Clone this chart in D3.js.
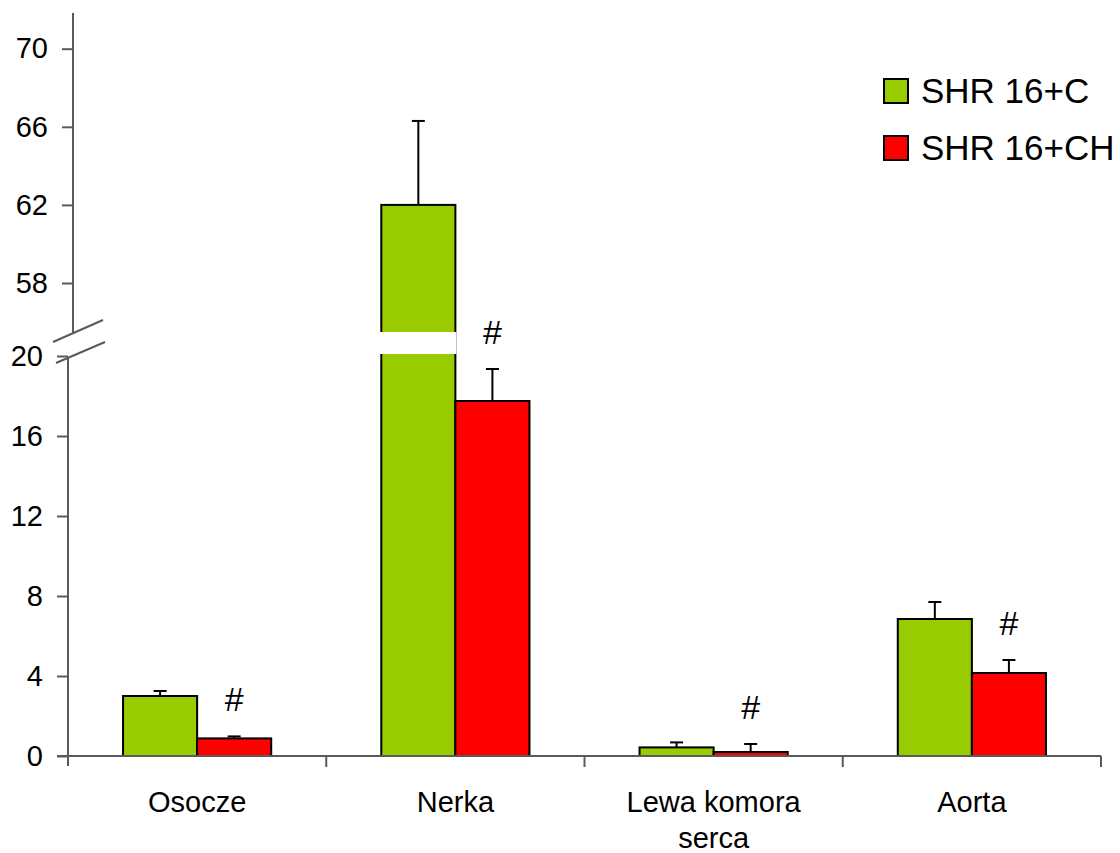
<!DOCTYPE html>
<html>
<head>
<meta charset="utf-8">
<script src="https://cdn.jsdelivr.net/npm/d3@7"></script>
<style>
  html, body { margin: 0; padding: 0; background: #fff; }
  svg { display: block; font-family: Arial, "Liberation Sans", sans-serif; }
</style>
</head>
<body>
<svg id="chart" width="1120" height="853"></svg>
<script>
// Categories and series
const categories = ["Osocze", "Nerka", "Lewa komora serca", "Aorta"];
const categoryLines = [["Osocze"], ["Nerka"], ["Lewa komora", "serca"], ["Aorta"]];
const seriesNames = ["SHR 16+C", "SHR 16+CH"];
const seriesColors = ["#99cc00", "#ff0000"];

// Mean values and upper error-bar ends (mean + SD)
const valuesC  = [3.0, 62.0, 0.43, 6.85];
const errTopC  = [3.25, 66.3, 0.68, 7.7];
const valuesCH = [0.88, 17.75, 0.2, 4.15];
const errTopCH = [0.98, 19.35, 0.6, 4.8];

// Significance markers (#) per category, above the CH bar
const markers = ["#", "#", "#", "#"];

// Axis tick labels for the two segments of the broken axis
const lowTicks = [0, 4, 8, 12, 16, 20];
const highTicks = [58, 62, 66, 70];

const svg = d3.select("#chart");

const axisColor = "#5a5a5a";
const lowX = 68, highX = 73;

// Two vertical scales: lower segment 0-20, upper segment 58-70
const yLow = d3.scaleLinear().domain([0, 20]).range([756, 356]);
const yHigh = d3.scaleLinear().domain([58, 70]).range([283, 48.7]);
const lowTop = 358;      // top of lower axis segment (px)
const highBottom = 333;  // bottom of upper axis segment (px)
const highTopPx = 13;

// Break: values above 20 belong to the upper segment
const breakLow = 20;
function yPos(v) { return v <= breakLow + 0.5 ? yLow(v) : yHigh(v); }

// Horizontal scales
const x0 = d3.scaleBand().domain(categories).range([68, 1101]).paddingInner(0).paddingOuter(0);
const x1 = d3.scaleBand().domain(seriesNames).range([0, x0.bandwidth()]).paddingInner(0).paddingOuter(0.743);

const data = categories.map((c, i) => ({
  cat: c,
  bars: [
    { s: seriesNames[0], v: valuesC[i], e: errTopC[i], color: seriesColors[0] },
    { s: seriesNames[1], v: valuesCH[i], e: errTopCH[i], color: seriesColors[1] }
  ]
}));

// Bars
const groups = svg.append("g").selectAll("g").data(data).join("g")
  .attr("transform", d => `translate(${x0(d.cat)},0)`);

groups.selectAll("rect.bar").data(d => d.bars).join("rect")
  .attr("class", "bar")
  .attr("x", d => x1(d.s))
  .attr("width", x1.bandwidth())
  .attr("y", d => yPos(d.v))
  .attr("height", d => yLow(0) - yPos(d.v))
  .attr("fill", d => d.color)
  .attr("stroke", "#000")
  .attr("stroke-width", 2);

// Error bars (upper whisker with cap)
groups.each(function(d) {
  const g = d3.select(this);
  d.bars.forEach(b => {
    const cx = x1(b.s) + x1.bandwidth() / 2;
    g.append("line")
      .attr("x1", cx).attr("x2", cx)
      .attr("y1", yPos(b.v)).attr("y2", yPos(b.e))
      .attr("stroke", "#000").attr("stroke-width", 2);
    g.append("line")
      .attr("x1", cx - 6.5).attr("x2", cx + 6.5)
      .attr("y1", yPos(b.e)).attr("y2", yPos(b.e))
      .attr("stroke", "#000").attr("stroke-width", 2);
  });
});

// White gap across bars that span the axis break
data.forEach(d => {
  d.bars.forEach(b => {
    if (b.v > breakLow + 0.5) {
      svg.append("rect")
        .attr("x", x0(d.cat) + x1(b.s) - 2)
        .attr("width", x1.bandwidth() + 3)
        .attr("y", 332)
        .attr("height", 22)
        .attr("fill", "#fff");
    }
  });
});

// Significance markers
svg.append("g").selectAll("text").data(data).join("text")
  .attr("x", (d, i) => x0(d.cat) + x1(seriesNames[1]) + x1.bandwidth() / 2)
  .attr("y", (d, i) => yPos(errTopCH[i]) - 25)
  .attr("text-anchor", "middle")
  .attr("font-size", 34)
  .attr("fill", "#000")
  .text((d, i) => markers[i]);

// Lower y axis
const axisLow = svg.append("g").attr("transform", `translate(${lowX},0)`)
  .call(d3.axisLeft(yLow).tickValues(lowTicks).tickSize(11).tickPadding(14));
axisLow.select(".domain").remove();
axisLow.append("line").attr("x1", 0).attr("x2", 0).attr("y1", lowTop).attr("y2", 766)
  .attr("stroke", axisColor).attr("stroke-width", 2);

// Upper y axis
const axisHigh = svg.append("g").attr("transform", `translate(${highX},0)`)
  .call(d3.axisLeft(yHigh).tickValues(highTicks).tickSize(11).tickPadding(14));
axisHigh.select(".domain").remove();
axisHigh.append("line").attr("x1", 0).attr("x2", 0).attr("y1", highTopPx).attr("y2", highBottom)
  .attr("stroke", axisColor).attr("stroke-width", 2);

[axisLow, axisHigh].forEach(a => {
  a.selectAll(".tick line").attr("stroke", axisColor).attr("stroke-width", 2);
  a.selectAll(".tick text").attr("font-size", 29).attr("fill", "#000")
    .attr("font-family", "Arial, 'Liberation Sans', sans-serif");
});

// Break slashes
svg.append("line").attr("x1", 53).attr("y1", 342).attr("x2", 103).attr("y2", 320)
  .attr("stroke", axisColor).attr("stroke-width", 2);
svg.append("line").attr("x1", 56).attr("y1", 363).attr("x2", 105).attr("y2", 342)
  .attr("stroke", axisColor).attr("stroke-width", 2);

// X axis with boundary ticks between categories
const xBase = yLow(0);
svg.append("line").attr("x1", 57).attr("x2", 1101).attr("y1", xBase).attr("y2", xBase)
  .attr("stroke", axisColor).attr("stroke-width", 2);
svg.append("g").selectAll("line").data(categories.slice(1).concat(["end"])).join("line")
  .attr("x1", (d, i) => x0.range()[0] + x0.step() * (i + 1))
  .attr("x2", (d, i) => x0.range()[0] + x0.step() * (i + 1))
  .attr("y1", xBase).attr("y2", xBase + 11)
  .attr("stroke", axisColor).attr("stroke-width", 2);

// Category labels
const catLabels = svg.append("g").selectAll("text").data(categories).join("text")
  .attr("x", d => x0(d) + x0.bandwidth() / 2)
  .attr("y", 812)
  .attr("text-anchor", "middle")
  .attr("font-size", 29)
  .attr("fill", "#000");
catLabels.each(function(d, i) {
  const t = d3.select(this);
  categoryLines[i].forEach((line, j) => {
    t.append("tspan").attr("x", x0(d) + x0.bandwidth() / 2).attr("dy", j === 0 ? 0 : 36).text(line);
  });
});

// Legend
const legend = svg.append("g").attr("transform", "translate(884,79)");
seriesNames.forEach((name, i) => {
  const row = legend.append("g").attr("transform", `translate(0,${i * 57})`);
  row.append("rect").attr("x", 0).attr("y", 0).attr("width", 24).attr("height", 24)
    .attr("fill", seriesColors[i]).attr("stroke", "#000").attr("stroke-width", 2);
  row.append("text").attr("x", 37).attr("y", 24).attr("font-size", 35).attr("fill", "#000").text(name);
});
</script>
</body>
</html>
